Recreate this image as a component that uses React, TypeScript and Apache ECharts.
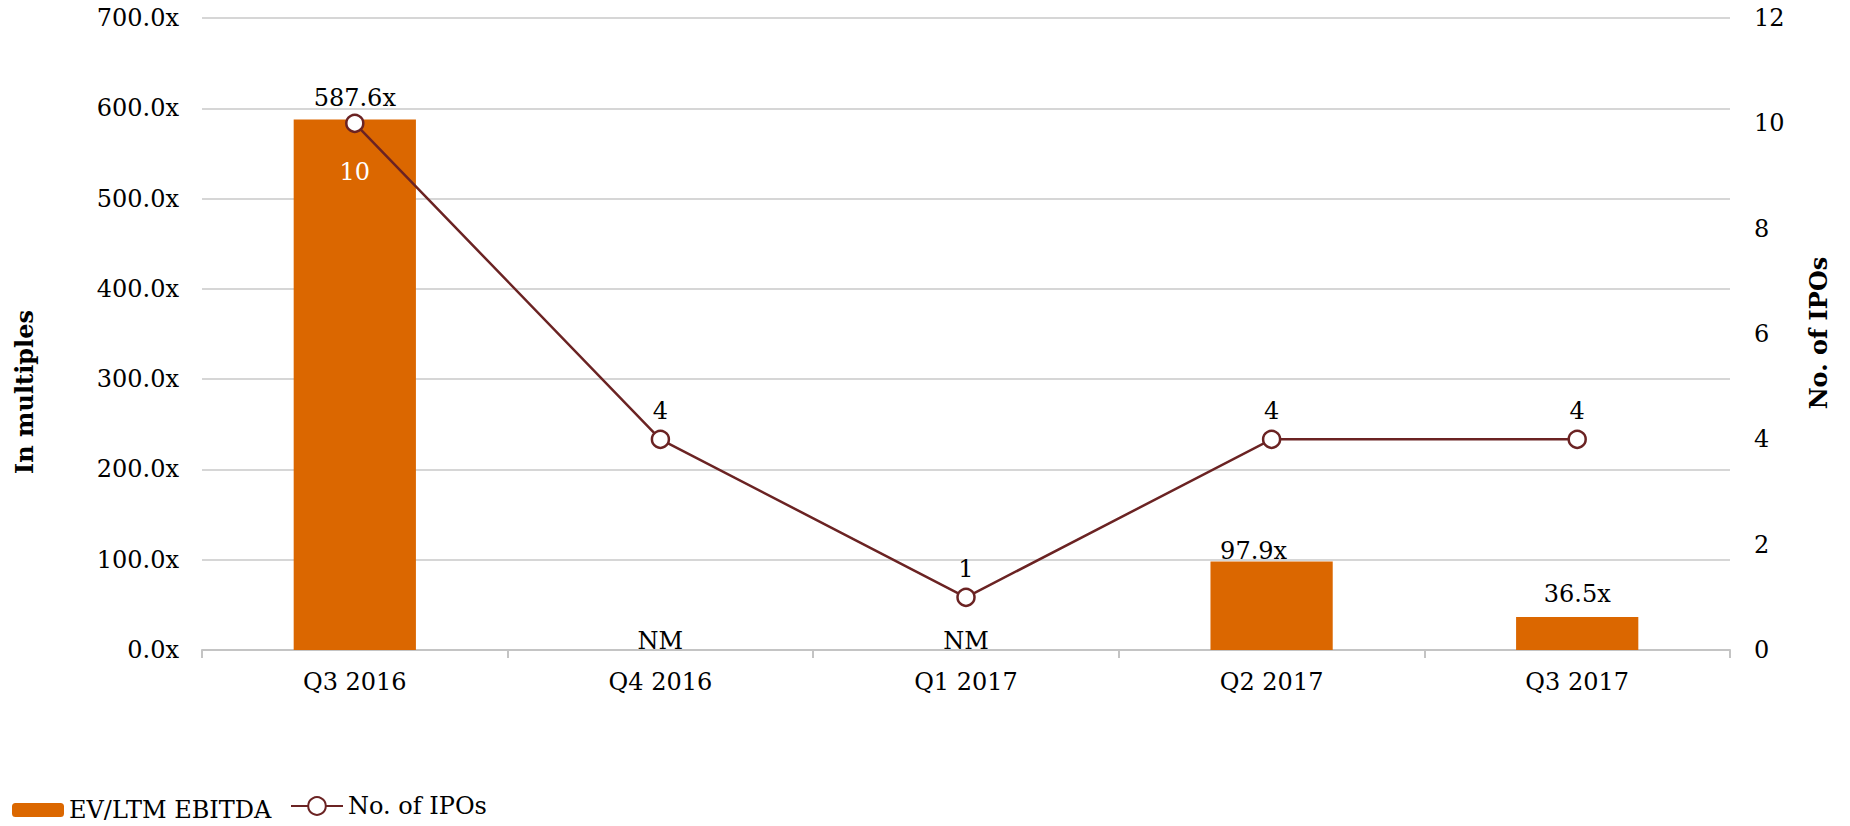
import React, { useEffect, useRef } from "react";
import * as echarts from "echarts";

const categories = ["Q3 2016", "Q4 2016", "Q1 2017", "Q2 2017", "Q3 2017"];
const evEbitda: (number | null)[] = [587.6, null, null, 97.9, 36.5];
const ipoCount = [10, 4, 1, 4, 4];
const leftTicks = { min: 0, max: 700, interval: 100 };
const rightTicks = { min: 0, max: 12, interval: 2 };
const barName = "EV/LTM EBITDA";
const lineName = "No. of IPOs";
const leftTitle = "In multiples";
const rightTitle = "No. of IPOs";

const FONT = "'DejaVu Serif', Georgia, serif";
const FS = 24;
const BAR_COLOR = "#DB6700";
const LINE_COLOR = "#6B2323";

export default function App() {
  const ref = useRef<HTMLDivElement>(null);
  useEffect(() => {
    document.body.style.margin = "0";
    if (!ref.current) return;
    const chart = echarts.init(ref.current, undefined, { renderer: "svg" });

    const barLabelTweaks: Record<number, any> = {
      0: { distance: 9 },
      1: { distance: -3 },
      2: { distance: -3 },
      3: { distance: -1, offset: [-18, 0] },
      4: { distance: 11 },
    };

    const barData = evEbitda.map((v, i) => ({
      value: v ?? 0,
      label: {
        show: true,
        position: "top",
        formatter: v === null ? "NM" : `${v.toFixed(1)}x`,
        ...barLabelTweaks[i],
      },
    }));

    const lineData = ipoCount.map((v, i) =>
      i === 0
        ? {
            value: v,
            label: { show: true, position: "bottom", distance: 27, color: "#FFFFFF" },
          }
        : { value: v, label: { show: true, position: "top", distance: 7 } }
    );

    const textBase = { fontFamily: FONT, fontSize: FS, color: "#000" };

    chart.setOption({
      animation: false,
      backgroundColor: "#FFFFFF",
      grid: { left: 202, right: 120, top: 18, bottom: 176, containLabel: false },
      legend: [
        {
          data: [barName],
          left: 12,
          top: 798,
          itemWidth: 52,
          itemHeight: 14,
          itemGap: 0,
          padding: 0,
          textStyle: { ...textBase },
        },
        {
          data: [lineName],
          left: 290,
          top: 794,
          itemWidth: 52,
          itemHeight: 22,
          itemGap: 0,
          padding: 0,
          textStyle: { ...textBase },
        },
      ],
      xAxis: {
        type: "category",
        data: categories,
        boundaryGap: true,
        axisLine: { show: true, lineStyle: { color: "#C4C4C4", width: 2 } },
        axisTick: { show: true, length: 8, lineStyle: { color: "#C4C4C4", width: 2 } },
        axisLabel: { ...textBase, margin: 20 },
      },
      yAxis: [
        {
          type: "value",
          min: leftTicks.min,
          max: leftTicks.max,
          interval: leftTicks.interval,
          axisLine: { show: false },
          axisTick: { show: false },
          splitLine: { show: true, lineStyle: { color: "#C8C8C8", width: 1.5 } },
          axisLabel: {
            ...textBase,
            margin: 23,
            formatter: (v: number) => `${v.toFixed(1)}x`,
          },
        },
        {
          type: "value",
          position: "right",
          min: rightTicks.min,
          max: rightTicks.max,
          interval: rightTicks.interval,
          axisLine: { show: false },
          axisTick: { show: false },
          splitLine: { show: false },
          axisLabel: { ...textBase, margin: 24 },
        },
      ],
      series: [
        {
          name: barName,
          type: "bar",
          yAxisIndex: 0,
          barWidth: "40%",
          itemStyle: { color: BAR_COLOR },
          label: { ...textBase },
          data: barData,
          z: 2,
        },
        {
          name: lineName,
          type: "line",
          yAxisIndex: 1,
          symbol: "circle",
          symbolSize: 17,
          showAllSymbol: true,
          lineStyle: { color: LINE_COLOR, width: 2.5 },
          itemStyle: { color: "#FFFFFF", borderColor: LINE_COLOR, borderWidth: 2.5 },
          label: { ...textBase },
          data: lineData,
          z: 3,
        },
      ],
      graphic: [
        {
          type: "text",
          x: 24,
          y: 392,
          rotation: Math.PI / 2,
          style: {
            text: leftTitle,
            font: `bold ${FS}px ${FONT}`,
            fill: "#000",
            textAlign: "center",
            textVerticalAlign: "middle",
          },
        },
        {
          type: "text",
          x: 1818,
          y: 333,
          rotation: Math.PI / 2,
          style: {
            text: rightTitle,
            font: `bold ${FS}px ${FONT}`,
            fill: "#000",
            textAlign: "center",
            textVerticalAlign: "middle",
          },
        },
      ],
    });
    return () => chart.dispose();
  }, []);
  return <div ref={ref} style={{ width: 1850, height: 826 }} />;
}
